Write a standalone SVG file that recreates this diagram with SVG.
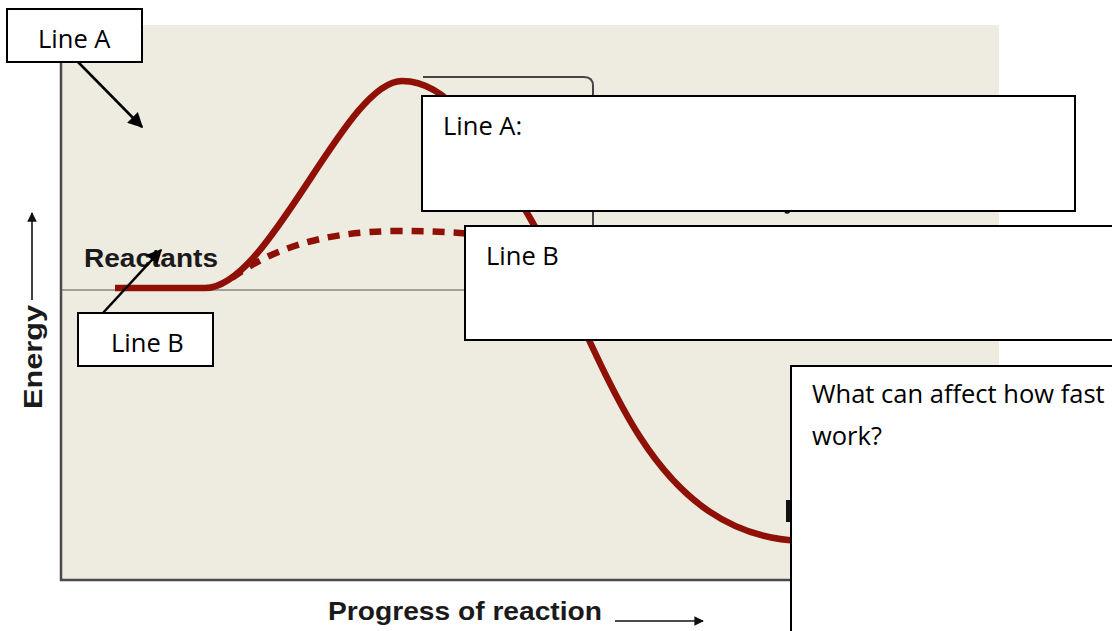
<svg xmlns="http://www.w3.org/2000/svg" width="1112" height="631" viewBox="0 0 1112 631">
<defs>
<marker id="ah" viewBox="0 0 10 10" refX="9" refY="5" markerWidth="6" markerHeight="6" orient="auto" markerUnits="strokeWidth"><path d="M0,0 L10,5 L0,10 z" fill="#000"/></marker>
<marker id="ah2" viewBox="0 0 10 10" refX="9" refY="5" markerWidth="9" markerHeight="6" orient="auto" markerUnits="strokeWidth"><path d="M0,0 L10,5 L0,10 z" fill="#111"/></marker>
<style>
.box{fill:#fff;stroke:#000;stroke-width:2}
.lbl{font-family:"Open Sans","Liberation Sans",sans-serif;font-size:25.5px;fill:#000}
.ax{font-family:"Liberation Sans",Arial,sans-serif;font-weight:bold;font-size:26px;fill:#1a1a1a}
.curve{fill:none;stroke:#8E1006;stroke-width:6.5;stroke-linecap:butt}
.conn{stroke:#000;stroke-width:2.5;fill:none}
</style>
</defs>
<rect width="1112" height="631" fill="#fff"/>
<g id="chart">
<rect x="61" y="25" width="938" height="555" fill="#EEEBE1"/>
<line x1="61" y1="25" x2="61" y2="581" stroke="#4a4a4a" stroke-width="2.5"/>
<line x1="60" y1="580" x2="999" y2="580" stroke="#4a4a4a" stroke-width="2.5"/>
<line x1="61" y1="290" x2="470" y2="290" stroke="#555" stroke-width="1.2"/>
<path d="M423,77 H584 Q593,77 593,86 V226" fill="none" stroke="#444" stroke-width="2"/>
<path d="M785,212 Q789,214 790,209" fill="none" stroke="#111" stroke-width="2.5"/>
<rect x="786" y="500" width="5" height="22" fill="#111"/>
<path class="curve" d="M115,288 L205,288 C270,288 345,81 402,81 C455,81 490,150 530,218 C560,269 600,375 640,437 C680,499 730,538 800,541 L850,544"/>
<path class="curve" d="M232,278 C270,250 320,232 395,231 C430,231 455,232 470,234" stroke-width="7.5" stroke-dasharray="12,9"/>
<text class="ax" x="84" y="267" textLength="134" lengthAdjust="spacingAndGlyphs">Reactants</text>
<text class="ax" transform="translate(42,357) rotate(-90)" text-anchor="middle" textLength="104" lengthAdjust="spacingAndGlyphs">Energy</text>
<line x1="32" y1="300" x2="32" y2="213" stroke="#111" stroke-width="1.6" marker-end="url(#ah2)"/>
<text class="ax" x="328" y="620" textLength="274" lengthAdjust="spacingAndGlyphs">Progress of reaction</text>
<line x1="615" y1="621" x2="703" y2="621" stroke="#111" stroke-width="1.6" marker-end="url(#ah2)"/>
</g>
<g id="connectors">
<line class="conn" x1="78" y1="62" x2="142" y2="127" marker-end="url(#ah)"/>
<line class="conn" x1="102" y1="314" x2="161" y2="250" marker-end="url(#ah)"/>
</g>
<g id="labelA">
<rect class="box" x="7" y="9" width="135" height="53"/>
<text class="lbl" x="38" y="48">Line A</text>
</g>
<g id="labelB">
<rect class="box" x="78" y="313" width="135" height="53"/>
<text class="lbl" x="111" y="352">Line B</text>
</g>
<g id="boxA">
<rect class="box" x="422" y="96" width="653" height="115"/>
<text class="lbl" x="443" y="135">Line A:</text>
</g>
<g id="boxB">
<rect class="box" x="465" y="226" width="660" height="114"/>
<text class="lbl" x="486" y="265">Line B</text>
</g>
<g id="question">
<rect class="box" x="791" y="366" width="340" height="280"/>
<text class="lbl" x="812" y="403">What can affect how fast</text>
<text class="lbl" x="812" y="445">work?</text>
</g>
</svg>
